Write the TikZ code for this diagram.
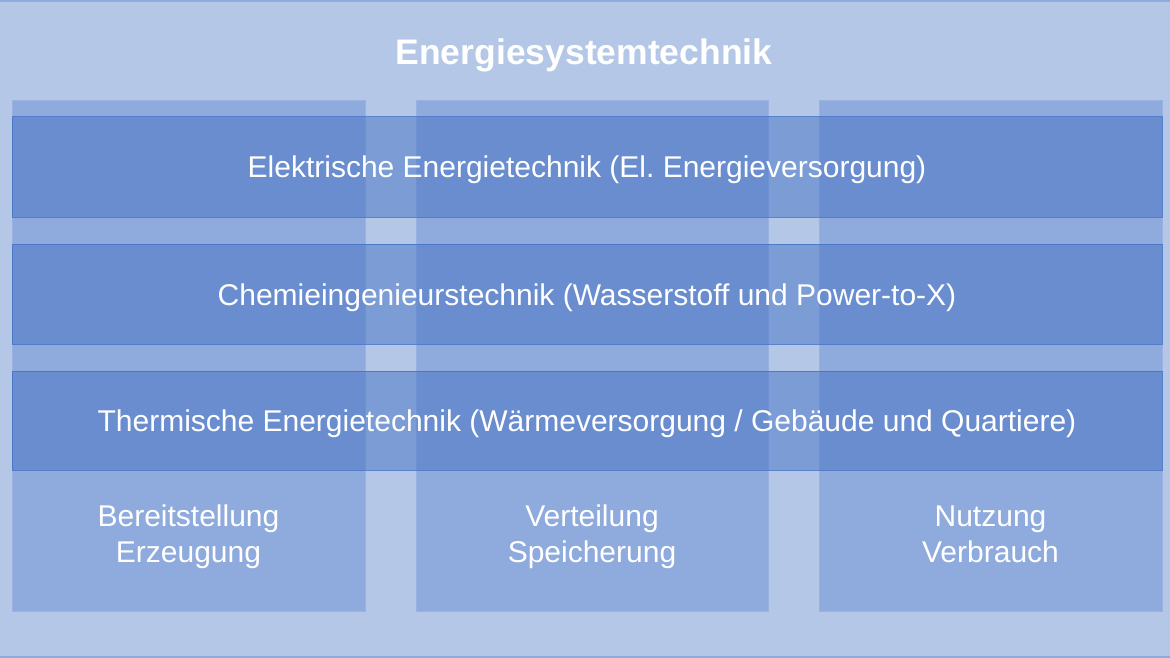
\documentclass[tikz,border=0pt]{standalone}
\usepackage{fontspec}
\setmainfont{Liberation Sans}
\frenchspacing
\definecolor{bgblue}{HTML}{B4C7E7}
\definecolor{edgeblue}{HTML}{8FAADC}
\definecolor{colblue}{HTML}{8FAADC}
\definecolor{rowblue}{HTML}{4472C4}
\begin{document}
\begin{tikzpicture}[x=1pt,y=-1pt,
  colbox/.style={fill=colblue, draw=colblue!90!white, line width=0.6pt},
  rowbox/.style={fill=rowblue, fill opacity=0.5, draw=rowblue, draw opacity=0.8, line width=1pt},
  rowtext/.style={text=white, anchor=base, inner sep=0pt, font=\fontsize{30}{34}\selectfont},
  coltext/.style={text=white, anchor=base, inner sep=0pt, font=\fontsize{30}{34}\selectfont},
  titletext/.style={text=white, anchor=base, inner sep=0pt, font=\bfseries\fontsize{35.5}{40}\selectfont}]
\useasboundingbox (0,0) rectangle (1170,658);
\fill[bgblue] (0,0) rectangle (1170,658);
\fill[edgeblue] (0,0) rectangle (1170,2);
\fill[edgeblue] (0,656) rectangle (1170,658);
\node[titletext] (title) at (584,64.5) {Energiesystemtechnik};
% columns
\draw[colbox] (12,100) rectangle (365,611);
\draw[colbox] (416,100) rectangle (768,611);
\draw[colbox] (819,100) rectangle (1162,611);
\node[coltext] (c1a) at (188.5,526) {Bereitstellung};
\node[coltext] (c1b) at (188.5,562) {Erzeugung};
\node[coltext] (c2a) at (592,526) {Verteilung};
\node[coltext] (c2b) at (592,562) {Speicherung};
\node[coltext] (c3a) at (990.5,526) {Nutzung};
\node[coltext] (c3b) at (990.5,562) {Verbrauch};
% rows
\draw[rowbox] (12,117) rectangle (1162,217);
\draw[rowbox] (12,244) rectangle (1162,344);
\draw[rowbox] (12,371) rectangle (1162,470);
\node[rowtext] (r1) at (587,178) {Elektrische Energietechnik (El.\ Energieversorgung)};
\node[rowtext] (r2) at (587,305) {Chemieingenieurstechnik (Wasserstoff und Power-to-X)};
\node[rowtext] (r3) at (587,431.5) {Thermische Energietechnik (Wärmeversorgung / Gebäude und Quartiere)};
\end{tikzpicture}
\end{document}
